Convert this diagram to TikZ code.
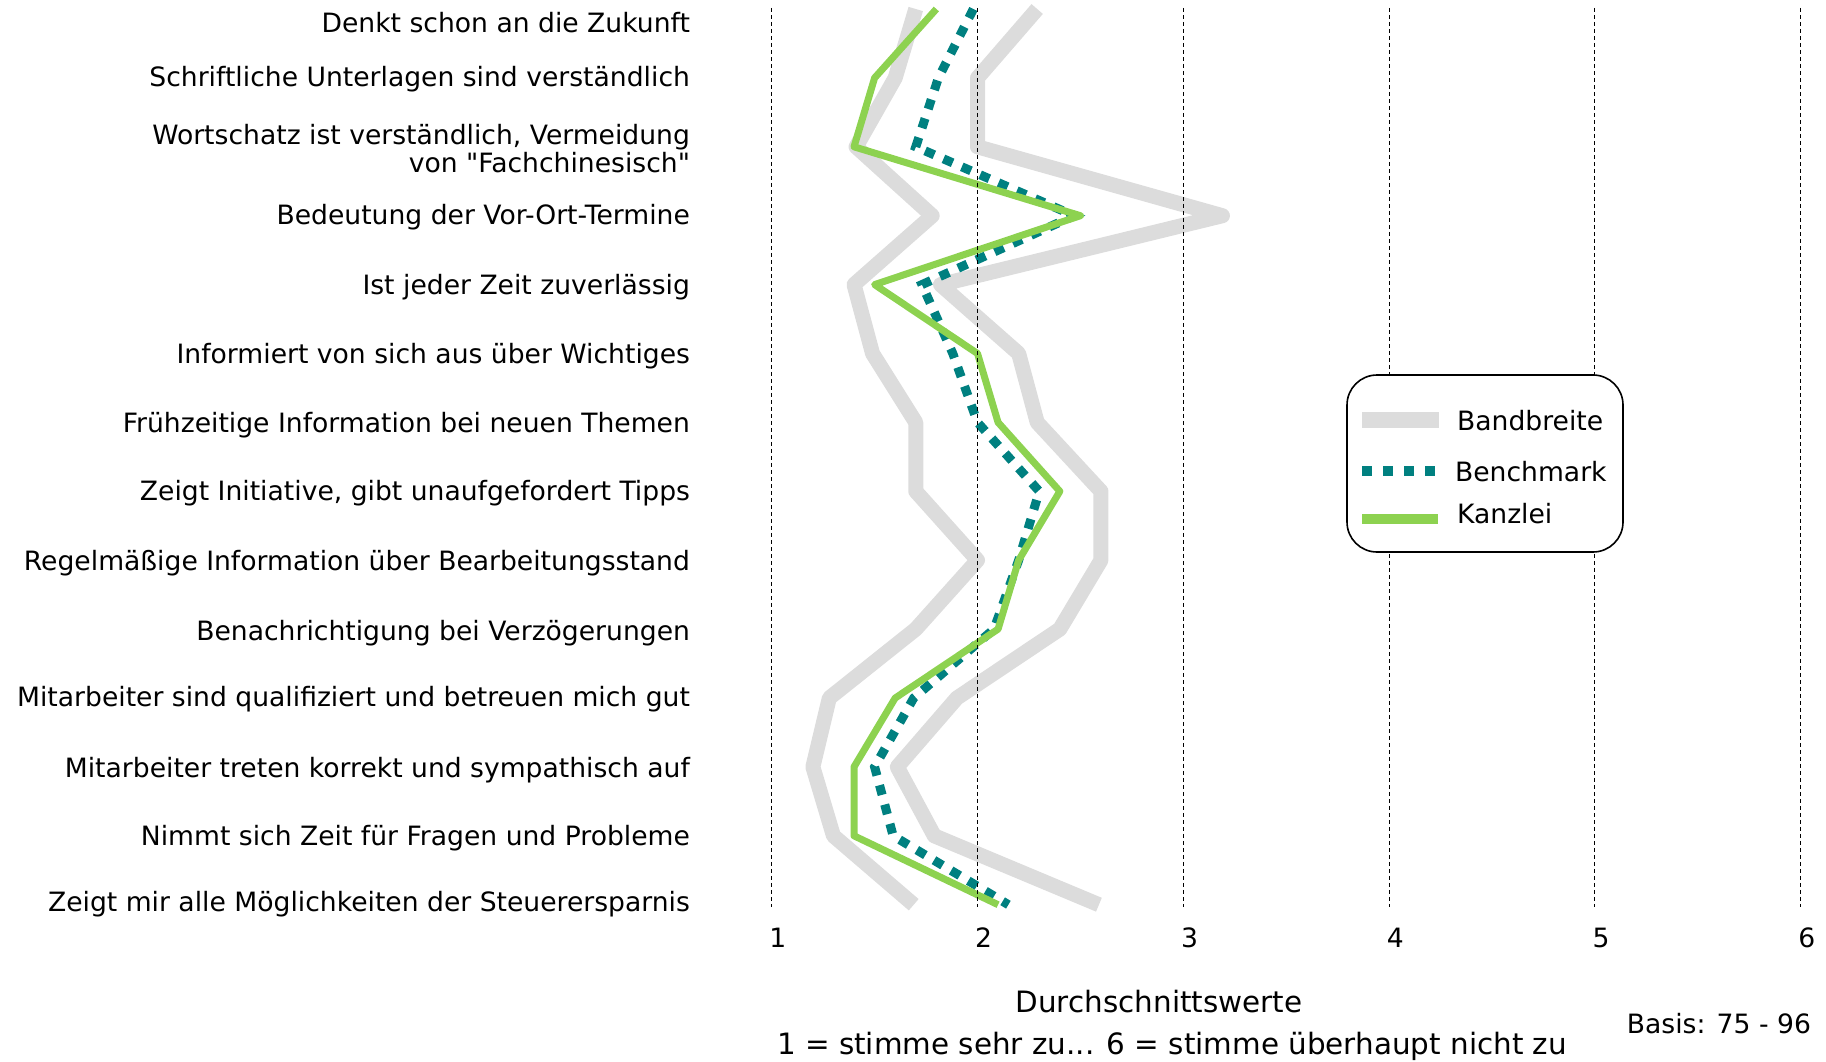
\documentclass[tikz,border=0pt]{standalone}
\usepackage{fontspec}
\setmainfont{DejaVu Sans}
\usepackage{tikz}
\usetikzlibrary{positioning}
\definecolor{bandgrey}{RGB}{220,220,220}
\definecolor{benchteal}{RGB}{0,128,128}
\definecolor{kanzleigreen}{RGB}{141,210,80}
\newcommand\dquot{\XeTeXglyph\XeTeXcharglyph"22\relax}

\begin{document}
\begin{tikzpicture}[x=0.5pt,y=-0.5pt,
  every node/.style={font=\fontsize{13.3}{14}\selectfont,text height=9.7pt,text depth=2.7pt},
  gridline/.style={line width=0.5pt,dash pattern=on 2pt off 1.5pt},
  bandline/.style={bandgrey,line width=7.5pt,line join=round},
  benchline/.style={benchteal,line width=4.5pt,dash pattern=on 5pt off 5pt},
  kanzleiline/.style={kanzleigreen,line width=3.5pt,line join=round},
  rowlabel/.style={anchor=east,align=right},
  legtext/.style={anchor=west},
  axtext/.style={font=\fontsize{14.7}{16}\selectfont}]
\useasboundingbox (0,0) rectangle (1826,1061);
\node[rowlabel] (lab1) at (697,25) {Denkt schon an die Zukunft};
\node[rowlabel] (lab2) at (697,79) {Schriftliche Unterlagen sind verständlich};
\node[rowlabel] (lab3) at (697,165) {Wortschatz ist verständlich, Vermeidung\\von \dquot Fachchinesisch\dquot};
\node[rowlabel] (lab4) at (697,217) {Bedeutung der Vor-Ort-Termine};
\node[rowlabel] (lab5) at (697,287) {Ist jeder Zeit zuverlässig};
\node[rowlabel] (lab6) at (697,356) {Informiert von sich aus über Wichtiges};
\node[rowlabel] (lab7) at (697,425) {Frühzeitige Information bei neuen Themen};
\node[rowlabel] (lab8) at (697,493) {Zeigt Initiative, gibt unaufgefordert Tipps};
\node[rowlabel] (lab9) at (697,563) {Regelmäßige Information über Bearbeitungsstand};
\node[rowlabel] (lab10) at (697,633) {Benachrichtigung bei Verzögerungen};
\node[rowlabel] (lab11) at (697,699) {Mitarbeiter sind qualifiziert und betreuen mich gut};
\node[rowlabel] (lab12) at (697,770) {Mitarbeiter treten korrekt und sympathisch auf};
\node[rowlabel] (lab13) at (697,838) {Nimmt sich Zeit für Fragen und Probleme};
\node[rowlabel] (lab14) at (697,904) {Zeigt mir alle Möglichkeiten der Steuerersparnis};
\begin{scope}[shift={(565.9,-59.9)},x=102.9pt,y=-34.45pt]
\draw[bandline] plot coordinates {(1.70,1) (1.60,2) (1.41,3) (1.78,4) (1.40,5) (1.49,6) (1.70,7) (1.70,8) (2.00,9) (1.70,10) (1.28,11) (1.20,12) (1.30,13) (1.69,14)};
\draw[bandline] plot coordinates {(2.29,1) (2.00,2) (2.00,3) (3.19,4) (1.82,5) (2.20,6) (2.29,7) (2.60,8) (2.60,9) (2.40,10) (1.90,11) (1.61,12) (1.79,13) (2.59,14)};
\draw[benchline] plot coordinates {(1.98,1) (1.81,2) (1.70,3) (2.47,4) (1.73,5) (1.88,6) (2.00,7) (2.30,8) (2.20,9) (2.08,10) (1.69,11) (1.50,12) (1.59,13) (2.15,14)};
\draw[kanzleiline] plot coordinates {(1.80,1) (1.50,2) (1.40,3) (2.50,4) (1.50,5) (2.00,6) (2.10,7) (2.40,8) (2.20,9) (2.10,10) (1.60,11) (1.40,12) (1.40,13) (2.10,14)};
\foreach \k in {1,...,6} {
  \draw[gridline] (\k,0.985) -- (\k,14.03);
  \node (tick\k) at (\k+0.03,14.52) {\k};
}
\end{scope}
\node[draw,fill=white,rounded corners=15pt,line width=0.8pt,minimum width=138pt,minimum height=88.5pt] (legendbox) at (1485,463.5) {};
\draw[bandgrey,line width=8pt] (1362,420) -- (1439,420);
\draw[benchteal,line width=5pt,dash pattern=on 5pt off 5.5pt] (1362,471) -- (1435,471);
\draw[kanzleigreen,line width=5pt] (1362,519) -- (1438,519);
\node[legtext] (legband) at (1450,423) {Bandbreite};
\node[legtext] (legbench) at (1448,474) {Benchmark};
\node[legtext] (legkanzlei) at (1450,516) {Kanzlei};
\node[axtext] (axtitle) at (1159,1005) {Durchschnittswerte};
\node[axtext] (axscale) at (1172,1047) {1 = stimme sehr zu... 6 = stimme überhaupt nicht zu};
\node[anchor=east] (basis) at (1818,1026) {Basis: 75 - 96};
\end{tikzpicture}
\end{document}
